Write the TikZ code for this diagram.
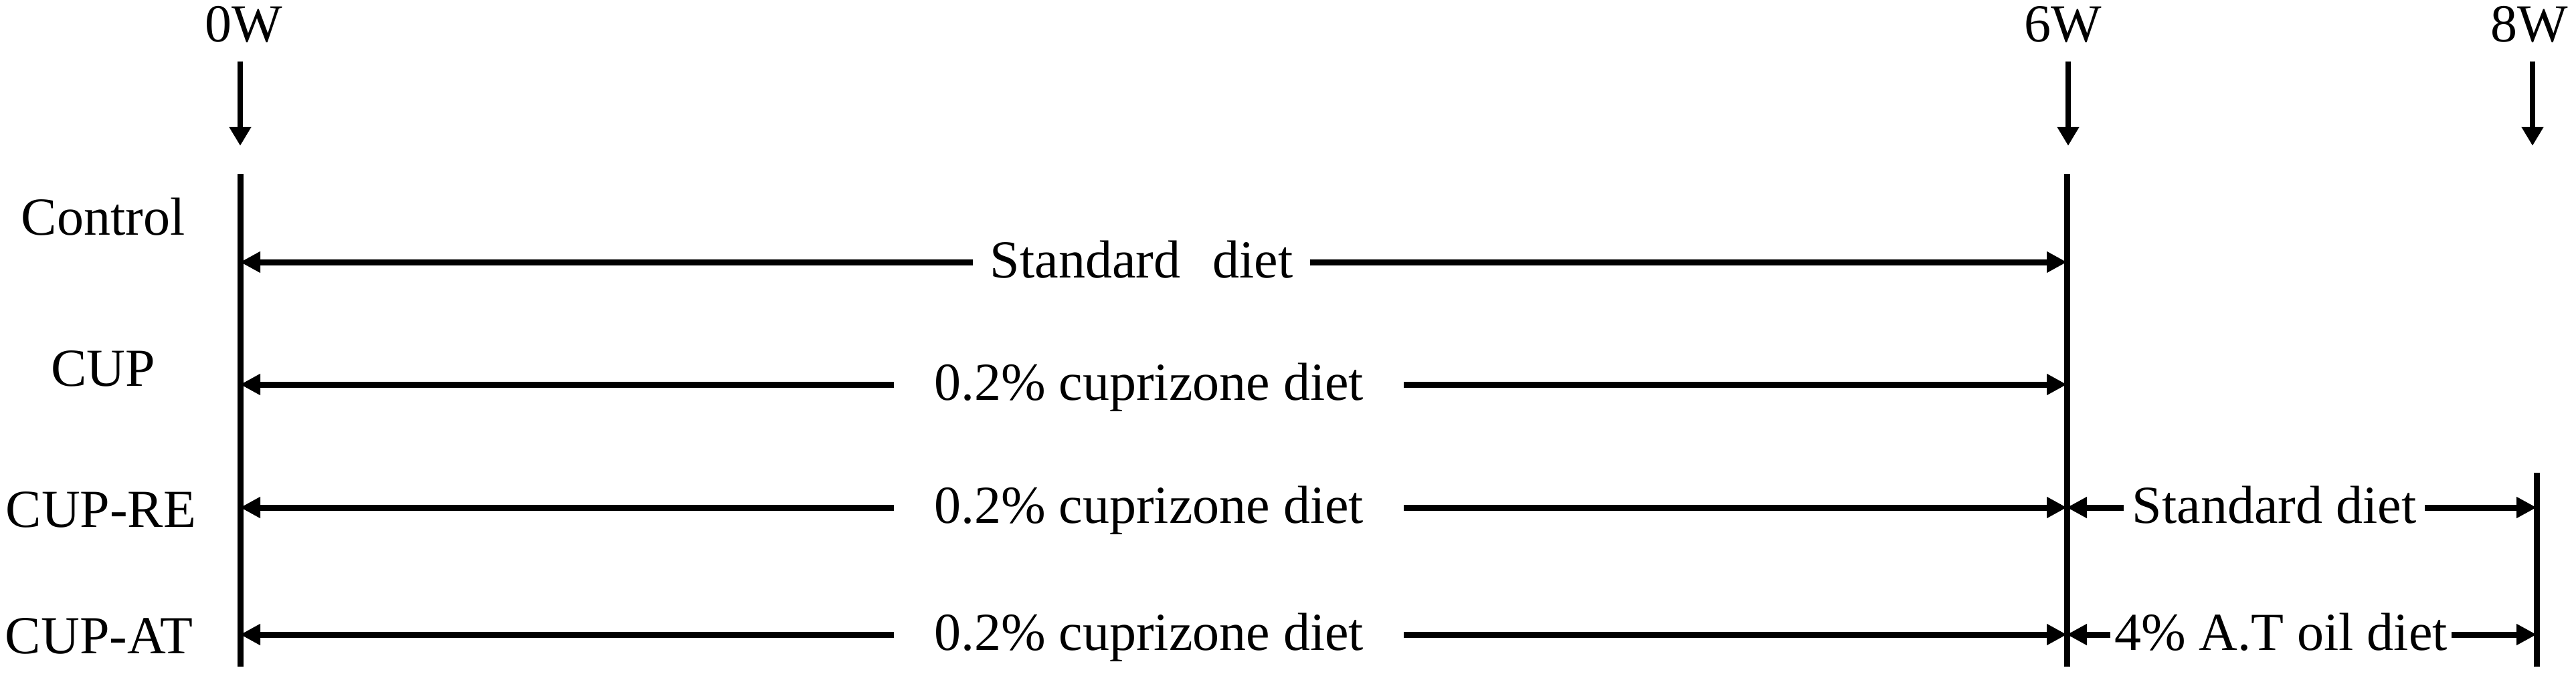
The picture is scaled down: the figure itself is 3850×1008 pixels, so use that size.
\documentclass[tikz,border=0pt]{standalone}
\usepackage{fontspec}
\setmainfont{Liberation Serif}
\usetikzlibrary{arrows.meta}
\begin{document}
\begin{tikzpicture}[x=1pt,y=-1pt,
  txt/.style={font=\fontsize{80}{96}\selectfont, inner ysep=0pt, text height=46pt, text depth=0pt},
  wk/.style={font=\fontsize{80}{96}\selectfont, inner sep=0pt, anchor=base},
  vline/.style={line width=9pt},
  harr/.style={line width=9pt, -{Triangle[length=30pt,width=30pt]}},
  darr/.style={line width=8pt, -{Triangle[length=28pt,width=31pt]}}]
\useasboundingbox (0,0) rectangle (3850,1008);
% week labels
\node[wk] (w0) at (364,63) {0W};
\node[wk] (w6) at (3083,63) {6W};
\node[wk] (w8) at (3780,63) {8W};
% down arrows
\coordinate (d0s) at (359,92);  \coordinate (d0e) at (359,218);
\coordinate (d6s) at (3091,92); \coordinate (d6e) at (3091,218);
\coordinate (d8s) at (3785,92); \coordinate (d8e) at (3785,218);
\draw[darr] (d0s) -- (d0e);
\draw[darr] (d6s) -- (d6e);
\draw[darr] (d8s) -- (d8e);
% vertical lines
\coordinate (L0t) at (359,260);  \coordinate (L0b) at (359,997);
\coordinate (L6t) at (3089,260); \coordinate (L6b) at (3089,997);
\coordinate (L8t) at (3791,707); \coordinate (L8b) at (3791,997);
\draw[vline] (L0t) -- (L0b);
\draw[vline] (L6t) -- (L6b);
\draw[vline] (L8t) -- (L8b);
% group labels
\node[txt, inner xsep=0pt] (gC)  at (154,329) {Control};
\node[txt, inner xsep=0pt] (gP)  at (154,554) {CUP};
\node[txt, inner xsep=0pt] (gRE) at (151,765) {CUP-RE};
\node[txt, inner xsep=0pt] (gAT) at (148,954) {CUP-AT};
% row 1: Control
\node[txt, inner xsep=26pt] (s1) at (1706,392) {Standard\hspace{0.6em}diet};
\draw[harr] (s1.west) -- (s1.west -| L0t);
\draw[harr] (s1.east) -- (s1.east -| L6t);
% row 2: CUP
\node[txt, inner xsep=60pt] (s2) at (1717,575) {0.2\% cuprizone diet};
\draw[harr] (s2.west) -- (s2.west -| L0t);
\draw[harr] (s2.east) -- (s2.east -| L6t);
% row 3: CUP-RE
\node[txt, inner xsep=60pt] (s3) at (1717,759) {0.2\% cuprizone diet};
\draw[harr] (s3.west) -- (s3.west -| L0t);
\draw[harr] (s3.east) -- (s3.east -| L6t);
\node[txt, inner xsep=13pt] (s3b) at (3399,759) {Standard diet};
\draw[harr] (s3b.west) -- (s3b.west -| L6t);
\draw[harr] (s3b.east) -- (s3b.east -| L8b);
% row 4: CUP-AT
\node[txt, inner xsep=60pt] (s4) at (1717,949) {0.2\% cuprizone diet};
\draw[harr] (s4.west) -- (s4.west -| L0t);
\draw[harr] (s4.east) -- (s4.east -| L6t);
\node[txt, inner xsep=6pt] (s4b) at (3409,949) {4\% A.T oil diet};
\draw[harr] (s4b.west) -- (s4b.west -| L6t);
\draw[harr] (s4b.east) -- (s4b.east -| L8b);
\end{tikzpicture}
\end{document}
